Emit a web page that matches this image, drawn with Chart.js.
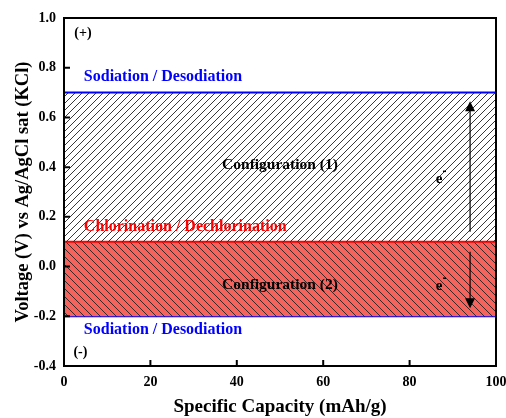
<!DOCTYPE html>
<html>
<head>
<meta charset="utf-8">
<script src="https://cdn.jsdelivr.net/npm/chart.js@4.4.1/dist/chart.umd.min.js"></script>
<style>
  html, body { margin: 0; padding: 0; background: #fff; }
  #wrap { width: 506px; height: 418px; }
</style>
</head>
<body>
<div id="wrap"><canvas id="potentialChart"></canvas></div>
<script>
// capacity range (mAh/g) and the three reaction potentials (V vs Ag/AgCl)
const capacity = [0, 100];
const sodiationUpper = [0.7, 0.7];
const chlorination = [0.1, 0.1];
const sodiationLower = [-0.2, -0.2];

const xTicks = [0, 20, 40, 60, 80, 100];
const yTicks = [-0.4, -0.2, 0.0, 0.2, 0.4, 0.6, 0.8, 1.0];

// electron-flow arrows: x position and [start, end] voltages
const arrowX = 94;
const arrowUp = [0.14, 0.665];
const arrowDown = [0.06, -0.168];

const serif = "'Liberation Serif', 'Times New Roman', serif";

function hatch(bg, back, s) {
  const c = document.createElement('canvas');
  c.width = s; c.height = s;
  const g = c.getContext('2d');
  if (bg) { g.fillStyle = bg; g.fillRect(0, 0, s, s); }
  g.strokeStyle = '#222';
  g.lineWidth = 0.9;
  g.beginPath();
  if (back) {
    g.moveTo(0, 0); g.lineTo(s, s);
    g.moveTo(-1, s - 1); g.lineTo(1, s + 1);
    g.moveTo(s - 1, -1); g.lineTo(s + 1, 1);
  } else {
    g.moveTo(0, s); g.lineTo(s, 0);
    g.moveTo(-1, 1); g.lineTo(1, -1);
    g.moveTo(s - 1, s + 1); g.lineTo(s + 1, s - 1);
  }
  g.stroke();
  return g.createPattern(c, 'repeat');
}

const pts = ys => capacity.map((x, i) => ({ x: x, y: ys[i] }));

const labels = [
  { t: '(+)', x: 4.4, y: 0.94, c: '#000', a: 'center', f: 14 },
  { t: 'Sodiation / Desodiation', x: 4.6, y: 0.763, c: '#0000ff', a: 'left', f: 16 },
  { t: 'Configuration (1)', x: 50, y: 0.41, c: '#000', a: 'center', f: 15.5 },
  { t: 'Chlorination / Dechlorination', x: 4.6, y: 0.158, c: '#ff0000', a: 'left', f: 16 },
  { t: 'Configuration (2)', x: 50, y: -0.074, c: '#000', a: 'center', f: 15.5 },
  { t: 'Sodiation / Desodiation', x: 4.6, y: -0.255, c: '#0000ff', a: 'left', f: 16 },
  { t: '(-)', x: 3.8, y: -0.344, c: '#000', a: 'center', f: 14 }
];
const electrons = [{ x: 86.8, y: 0.35 }, { x: 86.8, y: -0.08 }];

const decorPlugin = {
  id: 'decor',
  afterDatasetsDraw(chart) {
    const { ctx, scales: { x, y } } = chart;
    ctx.save();
    ctx.textBaseline = 'middle';
    labels.forEach(l => {
      ctx.font = 'bold ' + l.f + 'px ' + serif;
      ctx.fillStyle = l.c;
      ctx.textAlign = l.a;
      ctx.fillText(l.t, x.getPixelForValue(l.x), y.getPixelForValue(l.y));
    });
    electrons.forEach(e => {
      const px = x.getPixelForValue(e.x), py = y.getPixelForValue(e.y);
      ctx.fillStyle = '#000';
      ctx.textAlign = 'center';
      ctx.font = 'bold 15px ' + serif;
      ctx.fillText('e', px, py);
      ctx.fillRect(px + 4, py - 9, 3, 1.5);
    });
    // arrows
    const ax = x.getPixelForValue(arrowX);
    [arrowUp, arrowDown].forEach(a => {
      const y0 = y.getPixelForValue(a[0]), y1 = y.getPixelForValue(a[1]);
      const dir = y1 < y0 ? -1 : 1;
      ctx.strokeStyle = '#000';
      ctx.lineWidth = 1.2;
      ctx.beginPath();
      ctx.moveTo(ax, y0);
      ctx.lineTo(ax, y1 - dir * 8);
      ctx.stroke();
      ctx.fillStyle = '#000';
      ctx.beginPath();
      ctx.moveTo(ax, y1);
      ctx.lineTo(ax - 5, y1 - dir * 10);
      ctx.lineTo(ax + 5, y1 - dir * 10);
      ctx.closePath();
      ctx.fill();
    });
    ctx.restore();
  },
  afterDraw(chart) {
    const { ctx, chartArea: ca, scales: { x, y } } = chart;
    ctx.save();
    ctx.strokeStyle = '#000';
    ctx.lineWidth = 2;
    ctx.strokeRect(ca.left, ca.top, ca.right - ca.left, ca.bottom - ca.top);
    ctx.beginPath();
    xTicks.forEach(v => {
      const px = x.getPixelForValue(v);
      ctx.moveTo(px, ca.bottom); ctx.lineTo(px, ca.bottom - 6);
    });
    yTicks.forEach(v => {
      const py = y.getPixelForValue(v);
      ctx.moveTo(ca.left, py); ctx.lineTo(ca.left + 6, py);
    });
    ctx.stroke();
    ctx.restore();
  }
};

const ctx = document.getElementById('potentialChart').getContext('2d');

new Chart(ctx, {
  type: 'line',
  data: {
    datasets: [
      {
        data: pts(sodiationUpper),
        borderColor: '#0000ff',
        borderWidth: 2,
        backgroundColor: hatch(null, false, 7),
        fill: '+1',
        pointRadius: 0
      },
      {
        data: pts(chlorination),
        borderColor: '#ff0000',
        borderWidth: 2,
        backgroundColor: hatch('#f6635d', true, 8),
        fill: '+1',
        pointRadius: 0
      },
      {
        data: pts(sodiationLower),
        borderColor: '#0000ff',
        borderWidth: 2,
        fill: false,
        pointRadius: 0
      }
    ]
  },
  plugins: [decorPlugin],
  options: {
    responsive: true,
    maintainAspectRatio: false,
    animation: false,
    layout: { padding: { top: 18, right: 0, left: 0, bottom: 0 } },
    plugins: {
      legend: { display: false },
      tooltip: { enabled: false }
    },
    scales: {
      x: {
        type: 'linear',
        min: 0,
        max: 100,
        afterBuildTicks: s => { s.ticks = xTicks.map(v => ({ value: v })); },
        afterFit: s => { s.height = 52; s.paddingRight = 10; },
        grid: { display: false, drawTicks: false },
        border: { display: false },
        ticks: {
          color: '#000',
          padding: 8,
          font: { family: serif, size: 14, weight: 'bold' }
        },
        title: {
          display: true,
          text: 'Specific Capacity (mAh/g)',
          color: '#000',
          padding: { top: 9, bottom: 0 },
          font: { family: serif, size: 19, weight: 'bold' }
        }
      },
      y: {
        type: 'linear',
        min: -0.4,
        max: 1.0,
        afterBuildTicks: s => { s.ticks = yTicks.map(v => ({ value: v })); },
        afterFit: s => { s.width = 64; },
        grid: { display: false, drawTicks: false },
        border: { display: false },
        ticks: {
          color: '#000',
          padding: 8,
          callback: v => (Math.abs(v) < 1e-9 ? 0 : v).toFixed(1),
          font: { family: serif, size: 14, weight: 'bold' }
        },
        title: {
          display: true,
          text: 'Voltage (V) vs Ag/AgCl sat (KCl)',
          color: '#000',
          padding: { top: 12, bottom: 2 },
          font: { family: serif, size: 18.5, weight: 'bold' }
        }
      }
    }
  }
});
</script>
</body>
</html>
